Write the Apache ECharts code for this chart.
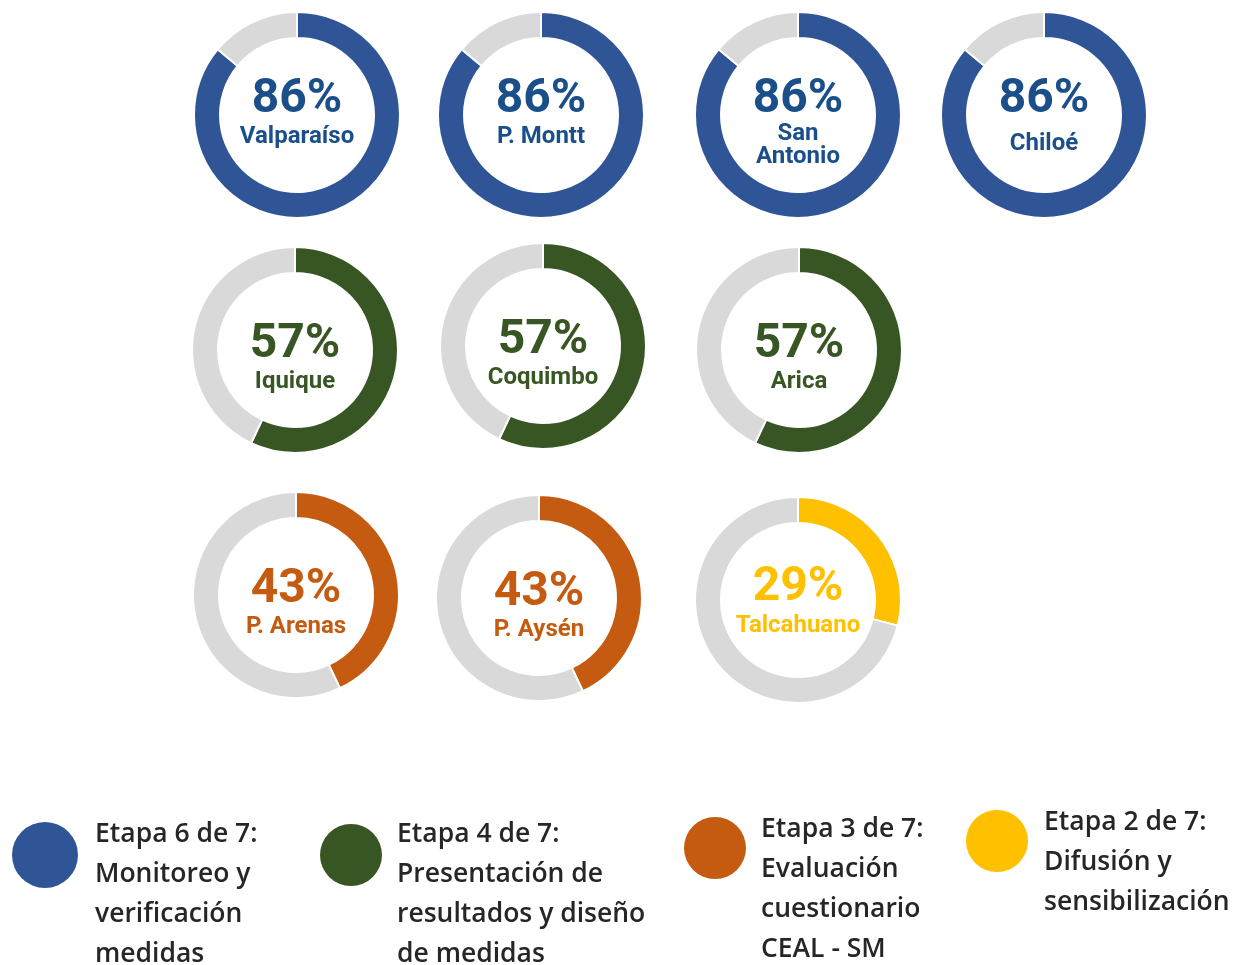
<!DOCTYPE html>
<html>
<head>
<meta charset="utf-8">
<title>Avance por territorio</title>
<script src="https://cdn.jsdelivr.net/npm/echarts@6/dist/echarts.min.js"></script>
<style>
  html, body { margin: 0; padding: 0; background: #ffffff; }
  #chart { width: 1238px; height: 965px; }
</style>
</head>
<body>
<div id="chart"></div>
<script>
// Territories and their progress (% of the 7 stages completed)
const sites = ['Valparaíso', 'P. Montt', 'San Antonio', 'Chiloé',
               'Iquique', 'Coquimbo', 'Arica',
               'P. Arenas', 'P. Aysén', 'Talcahuano'];
const siteLabels = ['Valparaíso', 'P. Montt', 'San\nAntonio', 'Chiloé',
                    'Iquique', 'Coquimbo', 'Arica',
                    'P. Arenas', 'P. Aysén', 'Talcahuano'];
const progress = [86, 86, 86, 86, 57, 57, 57, 43, 43, 29];
const stage = [6, 6, 6, 6, 4, 4, 4, 3, 3, 2];

// Stage legend
const stageIds = [6, 4, 3, 2];
const stageText = [
  'Etapa 6 de 7:\nMonitoreo y\nverificación\nmedidas',
  'Etapa 4 de 7:\nPresentación de\nresultados y diseño\nde medidas',
  'Etapa 3 de 7:\nEvaluación\ncuestionario\nCEAL - SM',
  'Etapa 2 de 7:\nDifusión y\nsensibilización'
];

// Styling
const stageColor = { 6: '#2F5597', 4: '#375623', 3: '#C55A11', 2: '#FFC000' };
const stageTextColor = { 6: '#1B4F8A', 4: '#375623', 3: '#C55A11', 2: '#FFC000' };
const restColor = '#D9D9D9';

// Donut layout: centre [x, y], label block offset and line heights per donut
const donutCenters = [
  [297, 115], [541, 115], [798, 115], [1044, 115],
  [295, 350], [543, 346], [799, 350],
  [296, 595], [539, 598], [798, 600]
];
const labelShift     = [2, 2, 8, 9, 12, 12, 12, 12, 12, 6];
const pctLineHeight  = [40, 40, 45, 40, 40, 40, 40, 40, 40, 40];
const nameLineHeight = [34, 34, 23, 48, 34, 34, 34, 34, 34, 36];

// Legend layout
const legendDots = [[45, 855, 33], [351, 855, 31], [715, 848, 31], [997, 841, 31]];
const legendTextPos = [[95, 814], [397, 814], [761, 809], [1044, 802]];

const series = sites.map((name, i) => {
  const col = stageColor[stage[i]];
  const tcol = stageTextColor[stage[i]];
  return {
    type: 'pie',
    name: name,
    center: donutCenters[i],
    radius: [77, 103],
    startAngle: 90,
    clockwise: true,
    silent: true,
    avoidLabelOverlap: false,
    itemStyle: { borderColor: '#ffffff', borderWidth: 2 },
    labelLine: { show: false },
    emphasis: { disabled: true },
    data: [
      {
        name: name,
        value: progress[i],
        itemStyle: { color: col },
        label: {
          show: true,
          position: 'center',
          offset: [0, labelShift[i]],
          formatter: () => '{p|' + progress[i] + '%}\n' +
            siteLabels[i].split('\n').map(s => '{n|' + s + '}').join('\n'),
          rich: {
            p: { fontFamily: 'Roboto', fontWeight: 'bold', fontSize: 48,
                 color: tcol, lineHeight: pctLineHeight[i], align: 'center' },
            n: { fontFamily: 'Roboto', fontWeight: 'bold', fontSize: 24,
                 color: tcol, lineHeight: nameLineHeight[i], align: 'center' }
          }
        }
      },
      {
        name: 'resto',
        value: 100 - progress[i],
        itemStyle: { color: restColor },
        label: { show: false }
      }
    ]
  };
});

const graphic = [];
stageIds.forEach((s, k) => {
  const d = legendDots[k];
  graphic.push({
    type: 'circle',
    shape: { cx: d[0], cy: d[1], r: d[2] },
    style: { fill: stageColor[s] },
    silent: true
  });
  graphic.push({
    type: 'text',
    x: legendTextPos[k][0],
    y: legendTextPos[k][1],
    style: {
      text: stageText[k],
      fontFamily: 'Open Sans',
      fontWeight: 600,
      fontSize: 26.5,
      lineHeight: 40,
      fill: '#262626',
      verticalAlign: 'top'
    },
    silent: true
  });
});

const chart = echarts.init(document.getElementById('chart'), null, { renderer: 'canvas' });
chart.setOption({
  backgroundColor: '#ffffff',
  animation: false,
  series: series,
  graphic: graphic
});
</script>
</body>
</html>
